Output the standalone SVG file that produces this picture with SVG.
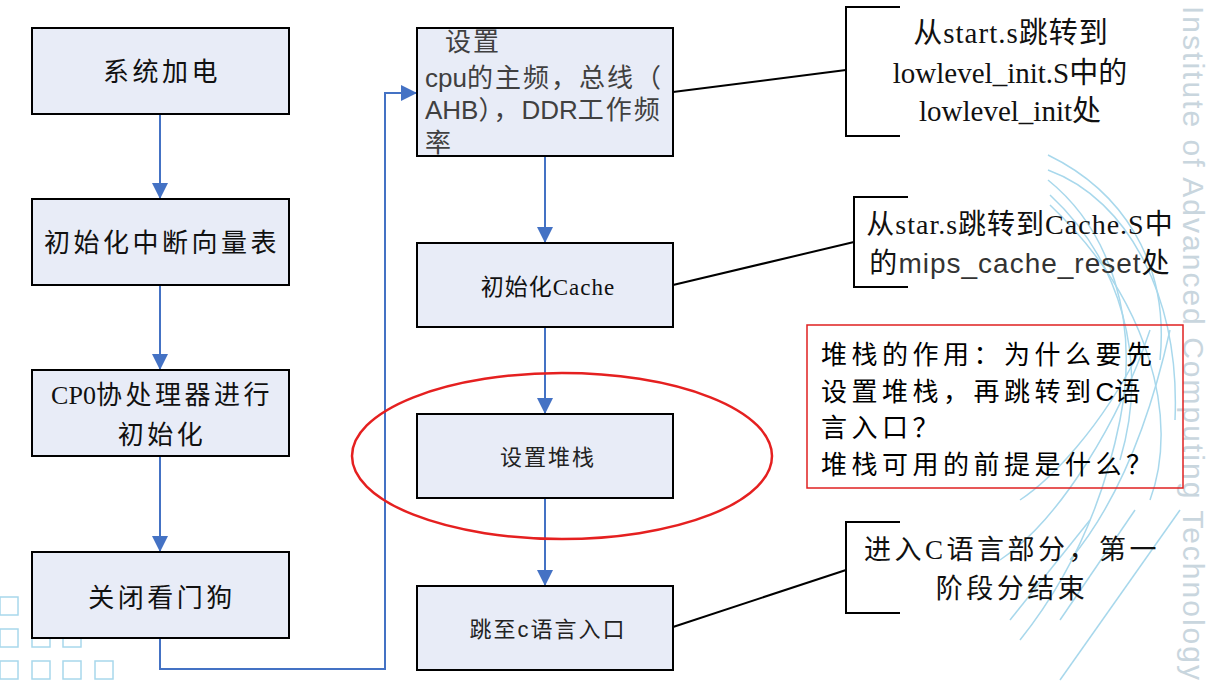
<svg xmlns="http://www.w3.org/2000/svg" width="1208" height="691" viewBox="0 0 1208 691">
<defs>
<style>
.box{fill:#E8ECF7;stroke:#000;stroke-width:2}
.conn{fill:none;stroke:#4472C4;stroke-width:2}
.line{fill:none;stroke:#000;stroke-width:2}
.serif{font-family:"Liberation Serif","Noto Sans CJK SC",serif;fill:#111}
.sans{font-family:"Liberation Sans","Noto Sans CJK SC",sans-serif}
.deco{fill:none;stroke:#A8D8EC;stroke-width:1.5}
.lt{font-size:26px;letter-spacing:3.5px}
.nl{letter-spacing:0}
</style>
<marker id="arrd" markerWidth="16" markerHeight="16" refX="15" refY="8" orient="auto" markerUnits="userSpaceOnUse">
<path d="M0,0 L16,8 L0,16 Z" fill="#4472C4"/>
</marker>
</defs>
<rect width="1208" height="691" fill="#fff"/>
<g id="background">
<g class="deco">
<rect x="0" y="597" width="18" height="18"/><rect x="32" y="597" width="18" height="18" opacity="0.5"/>
<rect x="0" y="629" width="18" height="18"/><rect x="32" y="629" width="18" height="18"/><rect x="63" y="629" width="18" height="18"/>
<rect x="0" y="661" width="18" height="18"/><rect x="32" y="661" width="18" height="18"/><rect x="63" y="661" width="18" height="18"/><rect x="95" y="661" width="18" height="18"/>
<path d="M1048,155 C1120,190 1170,260 1160,360"/>
<path d="M1048,170 C1130,200 1180,300 1175,420"/>
<path d="M1048,180 C1110,230 1140,320 1120,420 C1100,520 1060,590 1020,640"/>
<path d="M1050,195 C1120,260 1150,360 1120,460"/>
<path d="M1050,205 C1150,300 1180,420 1150,500"/>
<path d="M1150,330 C1120,420 1060,520 1000,560"/>
<path d="M1140,350 C1100,430 1050,480 1020,500"/>
<path d="M1170,330 C1150,420 1120,500 1070,560"/>
<path d="M1090,520 L1010,620"/>
<path d="M1135,510 L1060,620"/>
<path d="M1180,510 L1060,680"/>
</g>
<text transform="translate(1183,6) rotate(90)" class="sans" font-size="30" fill="#C9D6DE" textLength="674" lengthAdjust="spacing">Institute of Advanced Computing Technology</text>
</g>
<g id="connectors">
<line class="conn" x1="160" y1="114" x2="160" y2="198" marker-end="url(#arrd)"/>
<line class="conn" x1="160" y1="285" x2="160" y2="369" marker-end="url(#arrd)"/>
<line class="conn" x1="160" y1="456" x2="160" y2="551" marker-end="url(#arrd)"/>
<polyline class="conn" points="160,638 160,669 385,669 385,93 416,93" marker-end="url(#arrd)"/>
<line class="conn" x1="545" y1="156" x2="545" y2="242" marker-end="url(#arrd)"/>
<line class="conn" x1="545" y1="327" x2="545" y2="413" marker-end="url(#arrd)"/>
<line class="conn" x1="545" y1="498" x2="545" y2="585" marker-end="url(#arrd)"/>
<line class="line" x1="673" y1="92" x2="846" y2="70"/>
<line class="line" x1="673" y1="285" x2="854" y2="242"/>
<line class="line" x1="673" y1="627" x2="846" y2="570"/>
</g>
<g id="n1"><rect class="box" x="32" y="28" width="257" height="86"/><text class="serif lt" x="162" y="81" text-anchor="middle">系统加电</text></g>
<g id="n2"><rect class="box" x="32" y="199" width="257" height="86"/><text class="serif lt" x="162" y="252" text-anchor="middle">初始化中断向量表</text></g>
<g id="n3"><rect class="box" x="32" y="370" width="257" height="86"/><text class="serif lt" x="162" y="404" text-anchor="middle"><tspan class="nl">CP0</tspan>协处理器进行</text><text class="serif lt" x="162" y="444" text-anchor="middle">初始化</text></g>
<g id="n4"><rect class="box" x="32" y="552" width="257" height="86"/><text class="serif lt" x="162" y="607" text-anchor="middle">关闭看门狗</text></g>
<g id="n5"><rect class="box" x="417" y="28" width="256" height="128"/>
<text class="sans" font-size="26" fill="#404040" letter-spacing="2"><tspan x="445" y="51">设置</tspan><tspan x="425" y="87"><tspan class="nl">cpu</tspan>的主频，总线（</tspan><tspan x="425" y="119"><tspan class="nl">AHB</tspan>），<tspan class="nl">DDR</tspan>工作频</tspan><tspan x="425" y="152">率</tspan></text></g>
<g id="n6"><rect class="box" x="417" y="243" width="256" height="84"/><text class="serif" x="548" y="295" font-size="23" letter-spacing="1" text-anchor="middle">初始化Cache</text></g>
<g id="n7"><rect class="box" x="417" y="414" width="256" height="84"/><text class="sans" x="548" y="465" font-size="22" letter-spacing="2" text-anchor="middle" fill="#222">设置堆栈</text></g>
<g id="n8"><rect class="box" x="417" y="586" width="256" height="84"/><text class="sans" x="548" y="637" font-size="22" letter-spacing="2" text-anchor="middle" fill="#222">跳至c语言入口</text></g>
<g id="c1"><polyline class="line" points="900,7 846,7 846,136 900,136"/>
<text class="serif" font-size="29" text-anchor="middle"><tspan x="1011" y="43" letter-spacing="1">从start.s跳转到</tspan><tspan x="1010" y="83">lowlevel_init.S中的</tspan><tspan x="1010" y="121">lowlevel_init处</tspan></text></g>
<g id="c2"><polyline class="line" points="908,197 854,197 854,287 908,287"/>
<text class="serif" font-size="28" letter-spacing="1" x="1020" y="234" text-anchor="middle">从star.s跳转到Cache.S中</text>
<text x="1020" y="273" font-size="28" letter-spacing="1" text-anchor="middle"><tspan class="serif">的</tspan><tspan class="sans" fill="#333">mips_cache_reset</tspan><tspan class="serif">处</tspan></text></g>
<g id="c3"><polyline class="line" points="900,522 846,522 846,613 900,613"/>
<text class="serif" font-size="27" letter-spacing="3.5" text-anchor="middle"><tspan x="1012" y="559">进入C语言部分，第一</tspan><tspan x="1012" y="598">阶段分结束</tspan></text></g>
<g id="note"><rect x="807" y="325" width="376" height="163" fill="none" stroke="#E02020" stroke-width="1.5"/>
<text class="sans" font-size="26" letter-spacing="4.5" fill="#000"><tspan x="821" y="364">堆栈的作用：为什么要先</tspan><tspan x="821" y="401">设置堆栈，再跳转到<tspan class="nl">C</tspan>语</tspan><tspan x="821" y="437">言入口？</tspan><tspan x="821" y="474">堆栈可用的前提是什么？</tspan></text></g>
<g id="highlight"><ellipse cx="562" cy="456" rx="210" ry="83" fill="none" stroke="#E52020" stroke-width="2.5"/></g>
</svg>
